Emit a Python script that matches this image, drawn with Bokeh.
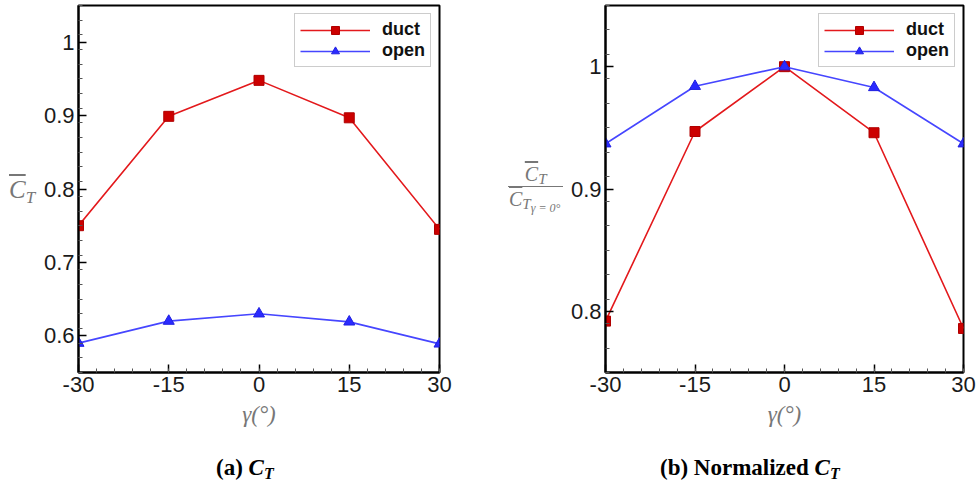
from bokeh.plotting import figure
from bokeh.models import Range1d, FixedTicker, NumeralTickFormatter, Div
from bokeh.layouts import row, column
from bokeh.embed import file_html
from bokeh.resources import INLINE
import numpy as np

# ---------------- data ----------------
gamma = [-30, -15, 0, 15, 30]
gamma_ticks = [-30, -15, 0, 15, 30]
ct_duct = [0.750, 0.899, 0.948, 0.897, 0.745]
ct_open = [0.590, 0.620, 0.630, 0.619, 0.589]
norm_duct = [0.792, 0.947, 1.000, 0.946, 0.786]
norm_open = [0.937, 0.984, 1.000, 0.983, 0.937]
ct_yticks = [0.6, 0.7, 0.8, 0.9, 1.0]
norm_yticks = [0.8, 0.9, 1.0]

# ---------------- layout constants ----------------
PH = 430          # height of plot row
CH = 483 - PH     # height of caption row
RED_LINE = "#e3191c"
RED_MARK = "#cc0000"
BLUE_LINE = "#4646ff"
BLUE_MARK = "#2a2aff"
GREY = "#777777"


def make(width, left, right, top, bottom, yr, ymajor):
    p = figure(width=width, height=PH, x_range=Range1d(-30, 30), y_range=Range1d(*yr),
               output_backend="svg", toolbar_location=None,
               min_border_left=left, min_border_right=right,
               min_border_top=top, min_border_bottom=bottom,
               background_fill_color="white", border_fill_color="white")
    p.grid.visible = False
    p.outline_line_color = "black"
    p.outline_line_width = 2
    for ax in (p.xaxis[0], p.yaxis[0]):
        ax.major_tick_in = 8
        ax.major_tick_out = 0
        ax.minor_tick_in = 4
        ax.minor_tick_out = 0
        ax.axis_line_width = 2
        ax.axis_line_color = "black"
        ax.major_tick_line_width = 1.5
        ax.major_tick_line_color = "black"
        ax.minor_tick_line_color = "#555555"
        ax.major_label_text_font = "Liberation Sans"
        ax.major_label_text_font_size = "22px"
        ax.major_label_text_color = "#1a1a1a"
        ax.major_label_standoff = 4
    p.xaxis.ticker = FixedTicker(ticks=gamma_ticks,
                                 minor_ticks=[float(v) for v in np.arange(-30, 31, 3)])
    p.xaxis.formatter = NumeralTickFormatter(format="0")
    ymin = [round(float(v), 2) for v in np.arange(yr[0], yr[1] + 1e-9, 0.02)]
    p.yaxis.ticker = FixedTicker(ticks=ymajor, minor_ticks=ymin)
    p.yaxis.formatter = NumeralTickFormatter(format="0.[0]")
    p.xaxis.axis_label = "γ(°)"
    p.xaxis.axis_label_text_font = "Liberation Serif"
    p.xaxis.axis_label_text_font_style = "italic"
    p.xaxis.axis_label_text_font_size = "23px"
    p.xaxis.axis_label_text_color = GREY
    p.xaxis.axis_label_standoff = 7
    return p


def add_series(p, yd, yo):
    p.line(gamma, yd, line_color=RED_LINE, line_width=1.6, legend_label="duct")
    p.scatter(gamma, yd, marker="square", size=10, fill_color=RED_MARK,
              line_color="#b00000", legend_label="duct")
    p.line(gamma, yo, line_color=BLUE_LINE, line_width=1.6, legend_label="open")
    p.scatter(gamma, yo, marker="triangle", size=11, fill_color=BLUE_MARK,
              line_color="#2020e0", legend_label="open")
    lg = p.legend[0]
    lg.location = "top_right"
    lg.margin = 8
    lg.padding = 5
    lg.spacing = 0
    lg.glyph_width = 70
    lg.glyph_height = 20
    lg.label_height = 20
    lg.label_standoff = 12
    lg.label_text_font = "Liberation Sans"
    lg.label_text_font_style = "bold"
    lg.label_text_font_size = "18px"
    lg.label_text_color = "#111111"
    lg.border_line_color = "#999999"
    lg.border_line_width = 1
    lg.background_fill_color = "white"
    lg.background_fill_alpha = 1


SERIF = "font-family:'Liberation Serif',serif;"


def cbar(size):
    return f"<span style=\"text-decoration:overline;font-size:{size}px\">C</span>"


def sub(text, size, top):
    return f"<span style=\"font-size:{size}px;position:relative;top:{top}px\">{text}</span>"


# ---------------- left panel ----------------
p1 = make(448, 38, 49, 3, 58, (0.55, 1.05), ct_yticks)
add_series(p1, ct_duct, ct_open)
ylab1 = Div(width=40, height=PH, margin=0, text=(
    f"<div style=\"{SERIF}font-style:italic;color:{GREY};line-height:1;"
    f"padding-top:177px;padding-left:9px;white-space:nowrap\">"
    f"{cbar(25)}{sub('T', 17, 5)}</div>"))

# ---------------- right panel ----------------
p2 = make(409, 35, 13, 5, 55, (0.75, 1.05), norm_yticks)
add_series(p2, norm_duct, norm_open)
ylab2 = Div(width=79, height=PH, margin=0, text=(
    f"<div style=\"{SERIF}font-style:italic;color:{GREY};line-height:1;"
    f"padding-top:164px;padding-left:20px;white-space:nowrap\">"
    f"<div style=\"display:inline-block;text-align:center\">"
    f"<div style=\"border-bottom:1.3px solid {GREY};padding-bottom:2px\">"
    f"{cbar(20)}{sub('T', 15, 3)}</div>"
    f"<div style=\"padding:2px 3px 0 1px\">{cbar(20)}{sub('T', 15, 3)}"
    f"{sub('γ = 0°', 12, 6)}</div>"
    f"</div></div>"))

CAP = f"{SERIF}font-weight:bold;font-size:23px;color:#000;line-height:1;white-space:nowrap;"
cap1 = Div(width=488, height=CH, margin=0, text=(
    f"<div style=\"{CAP}padding-top:26px;padding-left:216px\">(a) "
    f"<i>C{sub('T', 16, 4)}</i></div>"))
cap2 = Div(width=488, height=CH, margin=0, text=(
    f"<div style=\"{CAP}padding-top:26px;padding-left:172px\">(b) Normalized "
    f"<i>C{sub('T', 16, 4)}</i></div>"))

layout = column(row(ylab1, p1, ylab2, p2), row(cap1, cap2))
open("out.html", "w").write(file_html(layout, INLINE))
